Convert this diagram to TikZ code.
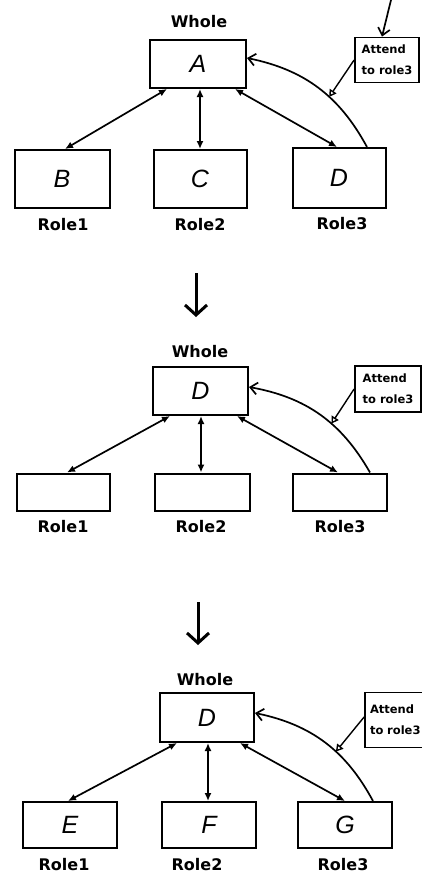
\documentclass[tikz,border=0pt]{standalone}
\usepackage{fontspec}
\newfontfamily\lblfont{DejaVu Sans}
\newfontfamily\handfont{Liberation Sans}
\usetikzlibrary{arrows.meta,calc}
\begin{document}
\begin{tikzpicture}[x=1pt,y=-1pt,
 box/.style={draw, line width=2pt, inner sep=0pt, font=\handfont\itshape\fontsize{25}{25}\selectfont},
 lbl/.style={font=\lblfont\bfseries\fontsize{16}{16}\selectfont, inner sep=0pt},
 attend/.style={draw, line width=1.8pt, inner sep=3pt, align=left, font=\lblfont\bfseries\fontsize{11.5}{21}\selectfont},
 link/.style={line width=1.7pt, {Latex[length=8pt,width=7pt]}-{Latex[length=8pt,width=7pt]}},
 curv/.style={line width=1.7pt, -{Straight Barb[length=7pt,width=12pt]}},
 hook/.style={line width=1.4pt, -{Triangle[open,length=7pt,width=8pt]}},
 inarrow/.style={line width=1.7pt, -{Straight Barb[length=7pt,width=12pt]}},
 nextarrow/.style={line width=3pt, -{Straight Barb[length=10pt,width=22pt]}}
]
\fill[white] (0,0) rectangle (422,876);
\useasboundingbox (0,0) rectangle (422,876);

% ---------- panel 1 ----------
\node[lbl] (w1) at (199,22) {Whole};
\node[box, minimum width=96pt, minimum height=48pt] (A) at (198,64) {A};
\node[box, minimum width=95pt, minimum height=58pt] (B) at (62,179) {B};
\node[box, minimum width=93pt, minimum height=58pt] (C) at (200,179) {C};
\node[box, minimum width=93pt, minimum height=60pt] (D) at (339,178) {D};
\node[lbl] (r11) at (63,225) {Role1};
\node[lbl] (r12) at (200,225) {Role2};
\node[lbl] (r13) at (342,224) {Role3};
\node[attend, minimum width=64pt, minimum height=45pt] (T1) at (387,60) {Attend\\to role3};
\draw[link] ([xshift=3pt]B.north) -- ([xshift=-31pt]A.south);
\draw[link] (C.north) -- (C.north |- A.south);
\draw[link] ([xshift=-2pt]D.north) -- ([xshift=37pt]A.south);
\draw[curv] ([xshift=28pt]D.north) to[bend right=25] coordinate[pos=0.4] (h1) ([yshift=6pt]A.east);
\draw[hook] (T1.west) -- (h1);
\coordinate (in1) at (391,0);
\draw[inarrow] (in1) -- ([xshift=-5pt]T1.north);
\coordinate (s1) at (196,273);
\coordinate (e1) at (196,317);
\draw[nextarrow] (s1) -- (e1);

% ---------- panel 2 ----------
\node[lbl] (w2) at (200,352) {Whole};
\node[box, minimum width=95pt, minimum height=48pt] (D2) at (200.5,391) {D};
\node[box, minimum width=93pt, minimum height=37pt] (P1) at (63.5,492) {};
\node[box, minimum width=95pt, minimum height=37pt] (P2) at (202,492) {};
\node[box, minimum width=94pt, minimum height=37pt] (P3) at (340,492) {};
\node[lbl] (r21) at (63,527) {Role1};
\node[lbl] (r22) at (201,527) {Role2};
\node[lbl] (r23) at (340,527) {Role3};
\node[attend, minimum width=66pt, minimum height=46pt] (T2) at (388,389) {Attend\\to role3};
\draw[link] ([xshift=3.5pt]P1.north) -- ([xshift=-30.5pt]D2.south);
\draw[link] ([xshift=-1pt]P2.north) -- ([xshift=-1pt]P2.north |- D2.south);
\draw[link] ([xshift=-2pt]P3.north) -- ([xshift=36.5pt]D2.south);
\draw[curv] ([xshift=30pt]P3.north) to[bend right=25] coordinate[pos=0.4] (h2) ([yshift=4pt]D2.east);
\draw[hook] (T2.west) -- (h2);
\coordinate (s2) at (198,602);
\coordinate (e2) at (198,645);
\draw[nextarrow] (s2) -- (e2);

% ---------- panel 3 ----------
\node[lbl] (w3) at (205,680) {Whole};
\node[box, minimum width=94pt, minimum height=49pt] (D3) at (207,717.5) {D};
\node[box, minimum width=94pt, minimum height=46pt] (E) at (70,825) {E};
\node[box, minimum width=94pt, minimum height=46pt] (F) at (209,825) {F};
\node[box, minimum width=94pt, minimum height=46pt] (G) at (345,825) {G};
\node[lbl] (r31) at (64,865) {Role1};
\node[lbl] (r32) at (197,865) {Role2};
\node[lbl] (r33) at (343,865) {Role3};
\node[attend, text width=56pt, inner xsep=5pt, minimum height=55pt] (T3) at (398,720) {Attend\\to role3};
\draw[link] ([xshift=-2pt]E.north) -- ([xshift=-30pt]D3.south);
\draw[link] ([xshift=-1pt]F.north) -- ([xshift=-1pt]F.north |- D3.south);
\draw[link] (G.north) -- ([xshift=33pt]D3.south);
\draw[curv] ([xshift=28pt]G.north) to[bend right=25] coordinate[pos=0.4] (h3) ([yshift=4.5pt]D3.east);
\draw[hook] ([yshift=3pt]T3.west) -- (h3);
\end{tikzpicture}
\end{document}
